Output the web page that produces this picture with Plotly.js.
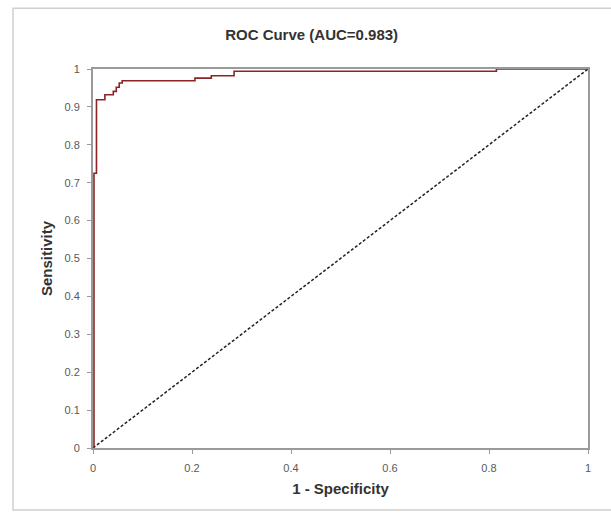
<!DOCTYPE html>
<html>
<head>
<meta charset="utf-8">
<script src="https://cdn.plot.ly/plotly-3.0.1.min.js"></script>
<style>html,body{margin:0;padding:0;background:#fff;}#chart{width:611px;height:516px;}</style>
</head>
<body>
<div id="chart"></div>
<script>
// ROC curve points (1 - specificity, sensitivity)
const fpr = [0, 0.002, 0.007, 0.024, 0.041, 0.047, 0.053, 0.059, 0.206, 0.239, 0.285, 0.815, 1];
const tpr = [0, 0.725, 0.919, 0.932, 0.941, 0.952, 0.963, 0.969, 0.976, 0.982, 0.994, 1.0, 1];
// chance diagonal
const diagX = [0, 1];
const diagY = [0, 1];
const xTicks = [0, 0.2, 0.4, 0.6, 0.8, 1];
const xTickLabels = ['0', '0.2', '0.4', '0.6', '0.8', '1'];
const yTicks = [0, 0.1, 0.2, 0.3, 0.4, 0.5, 0.6, 0.7, 0.8, 0.9, 1];
const yTickLabels = ['0', '0.1', '0.2', '0.3', '0.4', '0.5', '0.6', '0.7', '0.8', '0.9', '1'];

const FONT = 'Liberation Sans, Arial, sans-serif';

const traces = [
  {
    x: diagX, y: diagY, mode: 'lines', type: 'scatter',
    line: {color: '#222222', width: 1.5, dash: '3px,2px'},
    hoverinfo: 'skip', showlegend: false
  },
  {
    x: fpr, y: tpr, mode: 'lines', type: 'scatter',
    line: {color: '#8b2525', width: 1.6, shape: 'hv'},
    showlegend: false
  }
];

const layout = {
  width: 611, height: 516,
  margin: {l: 93, r: 23, t: 69, b: 68},
  paper_bgcolor: '#ffffff', plot_bgcolor: '#ffffff',
  font: {family: FONT, color: '#595959', size: 11},
  title: {
    text: '<b>ROC Curve (AUC=0.983)</b>',
    font: {family: FONT, size: 15, color: '#333333'},
    x: 0.51, xref: 'container', xanchor: 'center',
    y: 0.932, yref: 'container', yanchor: 'middle'
  },
  xaxis: {
    range: [0, 1], tickvals: xTicks, ticktext: xTickLabels,
    showgrid: false, zeroline: false,
    showline: true, linecolor: '#9a9a9a', linewidth: 2, mirror: true,
    ticks: 'outside', ticklen: 4, tickcolor: '#9a9a9a', tickwidth: 1,
    ticklabelstandoff: 5,
    tickfont: {family: FONT, size: 11, color: '#595959'},
    title: {text: '<b>1 - Specificity</b>', font: {family: FONT, size: 15, color: '#333333'}, standoff: 10}
  },
  yaxis: {
    range: [0, 1], tickvals: yTicks, ticktext: yTickLabels,
    showgrid: false, zeroline: false,
    showline: true, linecolor: '#9a9a9a', linewidth: 2, mirror: true,
    ticks: 'outside', ticklen: 4, tickcolor: '#9a9a9a', tickwidth: 1,
    ticklabelstandoff: 5,
    tickfont: {family: FONT, size: 11, color: '#595959'},
    title: {text: '<b>Sensitivity</b>', font: {family: FONT, size: 15, color: '#333333'}, standoff: 8}
  },
  shapes: [{
    type: 'rect', xref: 'paper', yref: 'paper',
    x0: -0.1616, x1: 1.05, y0: -0.1638, y1: 1.160,
    line: {color: '#d0d0d0', width: 1.5}, fillcolor: 'rgba(0,0,0,0)', layer: 'below'
  }]
};

Plotly.newPlot('chart', traces, layout, {displayModeBar: false, staticPlot: true});
</script>
</body>
</html>
